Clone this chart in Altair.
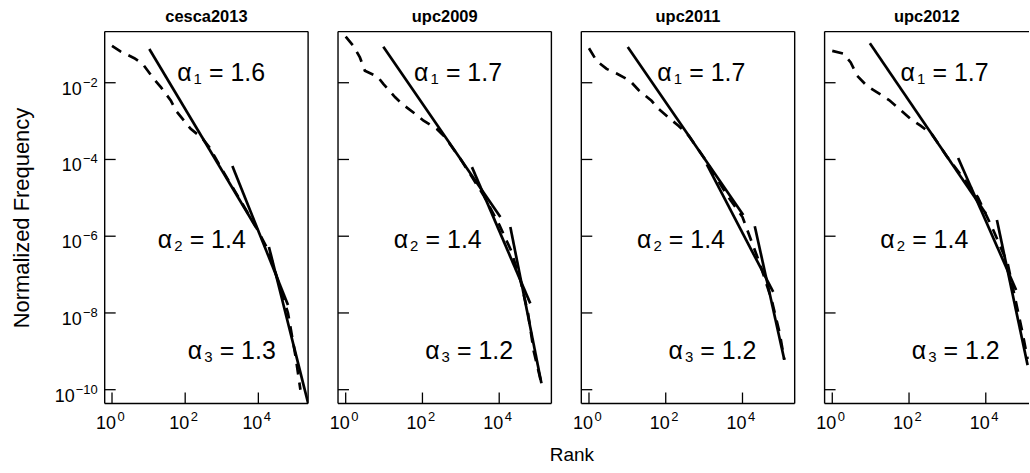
import altair as alt
import pandas as pd

panel_names = ["cesca2013", "upc2009", "upc2011", "upc2012"]
panel_widths = [204, 214, 214, 205]
panel_height = 373

# empirical rank-frequency curves (log10 rank, log10 normalized frequency)
cesca2013_lx = [0, 0.24, 0.61, 0.84, 1.11, 1.34, 1.61, 1.75, 1.97, 2.15, 2.47, 2.66, 3.0, 3.5, 3.93, 4.3, 4.6, 4.81, 5.02, 5.15]
cesca2013_ly = [-1.04, -1.19, -1.36, -1.51, -1.86, -2.12, -2.47, -2.73, -2.99, -3.2, -3.45, -3.68, -4.25, -5.05, -5.75, -6.42, -7.35, -8.0, -9.15, -10.0]

upc2009_lx = [0, 0.2, 0.37, 0.5, 0.83, 0.98, 1.29, 1.49, 1.81, 2.03, 2.37, 2.59, 3.0, 3.59, 4.0, 4.3, 4.55, 4.75, 4.9, 5.08]
upc2009_ly = [-0.8, -1.04, -1.34, -1.69, -1.84, -2.03, -2.38, -2.57, -2.81, -2.99, -3.2, -3.42, -4.0, -4.93, -5.7, -6.35, -7.14, -8.0, -9.0, -9.75]

upc2011_lx = [0, 0.2, 0.46, 0.72, 1.07, 1.29, 1.63, 1.81, 2.11, 2.33, 2.6, 3.0, 3.63, 4.0, 4.45, 4.76, 4.97, 5.09]
upc2011_ly = [-1.1, -1.43, -1.64, -1.76, -1.95, -2.19, -2.47, -2.68, -2.94, -3.12, -3.38, -3.96, -4.98, -5.5, -6.71, -7.66, -8.53, -9.22]

upc2012_lx = [0, 0.29, 0.48, 0.65, 0.9, 1.17, 1.48, 1.7, 2.04, 2.3, 2.6, 3.0, 3.79, 4.2, 4.57, 4.96, 5.09]
upc2012_ly = [-1.17, -1.24, -1.47, -1.82, -2.08, -2.25, -2.45, -2.64, -2.94, -3.12, -3.35, -3.94, -4.98, -5.85, -6.71, -8.53, -9.2]

# fitted power-law segments: [start, end] in log10 units
cesca2013_fit_lx = [[1.02, 3.93], [3.29, 4.81], [4.29, 5.36]]
cesca2013_fit_ly = [[-1.12, -5.76], [-4.17, -7.79], [-6.28, -10.35]]
upc2009_fit_lx = [[0.98, 4.03], [3.29, 4.81], [4.29, 5.10]]
upc2009_fit_ly = [[-1.06, -5.5], [-4.2, -7.75], [-5.76, -9.83]]
upc2011_fit_lx = [[1.01, 4.02], [3.07, 4.8], [4.32, 5.09]]
upc2011_fit_ly = [[-1.07, -5.45], [-4.13, -7.45], [-5.74, -9.22]]
upc2012_fit_lx = [[0.98, 4.0], [3.28, 4.79], [4.29, 5.09]]
upc2012_fit_ly = [[-0.97, -5.41], [-3.96, -7.4], [-5.58, -9.36]]

alphas = {
    "cesca2013": ["1.6", "1.4", "1.3"],
    "upc2009": ["1.7", "1.4", "1.2"],
    "upc2011": ["1.7", "1.4", "1.2"],
    "upc2012": ["1.7", "1.4", "1.2"],
}
alpha_index = ["1", "2", "3"]
label_lx = [1.78, 1.25, 2.07]        # left edge of the "α" glyph
label_ly = [-1.95, -6.31, -9.19]     # text baseline

x_ticks = [1, 100, 10000]
x_tick_exp = ["0", "2", "4"]
y_ticks = [1e-2, 1e-4, 1e-6, 1e-8, 1e-10]
y_tick_exp = ["−2", "−4", "−6", "−8", "−10"]

x_domain_log = [-0.2, 5.36]
y_domain_log = [-10.36, -0.667]

curves = {
    "cesca2013": (cesca2013_lx, cesca2013_ly, cesca2013_fit_lx, cesca2013_fit_ly),
    "upc2009": (upc2009_lx, upc2009_ly, upc2009_fit_lx, upc2009_fit_ly),
    "upc2011": (upc2011_lx, upc2011_ly, upc2011_fit_lx, upc2011_fit_ly),
    "upc2012": (upc2012_lx, upc2012_ly, upc2012_fit_lx, upc2012_fit_ly),
}

FONT = "Liberation Sans"
LW = 2.7
BASE_FS = 18
EXP_FS = 13


def make_panel(i, name):
    lx, ly, flx, fly = curves[name]
    w = panel_widths[i]
    h = panel_height
    full_w = 204 if i == 0 else 214
    px_per_dec = full_w / (x_domain_log[1] - x_domain_log[0])
    x_hi = x_domain_log[0] + w / px_per_dec

    data = pd.DataFrame({"rank": [10 ** v for v in lx], "freq": [10 ** v for v in ly]})
    rows = []
    for k in range(3):
        for j in range(2):
            rows.append({"rank": 10 ** flx[k][j], "freq": 10 ** fly[k][j], "fit": k})
    fits = pd.DataFrame(rows)
    labels = pd.DataFrame({
        "rank": [10 ** v for v in label_lx],
        "freq": [10 ** v for v in label_ly],
        "sub": alpha_index,
        "rest": [f"= {a}" for a in alphas[name]],
    })
    xt = pd.DataFrame({"rank": x_ticks, "exp": x_tick_exp})
    yt = pd.DataFrame({"freq": y_ticks, "exp": y_tick_exp})
    one = pd.DataFrame({"k": [0]})

    if i == 2:
        xaxis = alt.Axis(
            labels=False, ticks=False, domain=False, grid=False,
            title="Rank", titleX=-10, titleY=57, titleAlign="center",
            titleBaseline="alphabetic", titleFontSize=19, titleFontWeight="normal",
            titleColor="black", titleFont=FONT,
        )
    else:
        xaxis = None
    if i == 0:
        yaxis = alt.Axis(
            labels=False, ticks=False, domain=False, grid=False,
            title="Normalized Frequency", titleFontSize=22, titleFontWeight="normal",
            titleColor="black", titleFont=FONT, titlePadding=71,
        )
    else:
        yaxis = None

    xs = alt.Scale(type="log", domain=[10 ** x_domain_log[0], 10 ** x_hi], nice=False)
    ys = alt.Scale(type="log", domain=[10 ** y_domain_log[0], 10 ** y_domain_log[1]], nice=False)
    X = alt.X("rank:Q", scale=xs, axis=xaxis)
    Y = alt.Y("freq:Q", scale=ys, axis=yaxis)

    layers = []
    layers.append(alt.Chart(data).mark_line(
        color="black", strokeWidth=LW, strokeDash=[11, 8], clip=True
    ).encode(x=X, y=Y))
    layers.append(alt.Chart(fits).mark_line(
        color="black", strokeWidth=LW, clip=True
    ).encode(x=X, y=Y, detail="fit:N"))

    # alpha annotations
    layers.append(alt.Chart(labels).mark_text(
        text="α", fontSize=25, font=FONT, color="black", align="left", baseline="alphabetic"
    ).encode(x=X, y=Y))
    layers.append(alt.Chart(labels).mark_text(
        fontSize=15, font=FONT, color="black", align="left", baseline="alphabetic", dx=16.5, dy=3
    ).encode(x=X, y=Y, text="sub:N"))
    layers.append(alt.Chart(labels).mark_text(
        fontSize=25, font=FONT, color="black", align="left", baseline="alphabetic", dx=32
    ).encode(x=X, y=Y, text="rest:N"))

    # inward ticks
    layers.append(alt.Chart(xt).mark_rule(color="black", strokeWidth=1.3).encode(
        x=X, y=alt.value(h), y2=alt.value(h - 11)
    ))
    layers.append(alt.Chart(yt).mark_rule(color="black", strokeWidth=1.3).encode(
        y=Y, x=alt.value(0), x2=alt.value(11)
    ))

    # x tick labels: 10 with superscript exponent
    layers.append(alt.Chart(xt).mark_text(
        text="10", fontSize=BASE_FS, font=FONT, color="black", align="right",
        baseline="alphabetic", dx=4
    ).encode(x=X, y=alt.value(h + 26)))
    layers.append(alt.Chart(xt).mark_text(
        fontSize=EXP_FS, font=FONT, color="black", align="left",
        baseline="alphabetic", dx=5.5
    ).encode(x=X, y=alt.value(h + 18), text="exp:N"))

    # y tick labels (first panel only)
    if i == 0:
        single = yt[yt["exp"].str.len() == 2]
        double = yt[yt["exp"].str.len() == 3]
        layers.append(alt.Chart(single).mark_text(
            text="10", fontSize=BASE_FS, font=FONT, color="black", align="right",
            baseline="alphabetic", dy=12
        ).encode(y=Y, x=alt.value(-23)))
        layers.append(alt.Chart(double).mark_text(
            text="10", fontSize=BASE_FS, font=FONT, color="black", align="right",
            baseline="alphabetic", dy=12
        ).encode(y=Y, x=alt.value(-30)))
        layers.append(alt.Chart(yt).mark_text(
            fontSize=EXP_FS, font=FONT, color="black", align="right",
            baseline="alphabetic", dy=4
        ).encode(y=Y, x=alt.value(-7), text="exp:N"))

    # panel frame (the last panel runs past the right edge of the figure)
    fr = dict(color="black", strokeWidth=1.4)
    layers.append(alt.Chart(one).mark_rule(**fr).encode(
        x=alt.value(0), y=alt.value(0), y2=alt.value(h)))
    layers.append(alt.Chart(one).mark_rule(**fr).encode(
        x=alt.value(0), x2=alt.value(w), y=alt.value(0)))
    layers.append(alt.Chart(one).mark_rule(**fr).encode(
        x=alt.value(0), x2=alt.value(w), y=alt.value(h)))
    if i < 3:
        layers.append(alt.Chart(one).mark_rule(**fr).encode(
            x=alt.value(w), y=alt.value(0), y2=alt.value(h)))

    return alt.layer(*layers).properties(
        width=w, height=h,
        title=alt.TitleParams(name, fontSize=16.5, fontWeight="bold", font=FONT,
                              color="black", offset=5, anchor="middle"),
    )


panels = [make_panel(i, n) for i, n in enumerate(panel_names)]
chart = alt.hconcat(*panels, spacing=30, bounds="flush").properties(
    padding={"left": 11, "top": 8, "right": 0, "bottom": 0}
).configure(font=FONT).configure_view(strokeWidth=0)

chart.save("out.html", embed_options={"renderer": "svg", "actions": False})
